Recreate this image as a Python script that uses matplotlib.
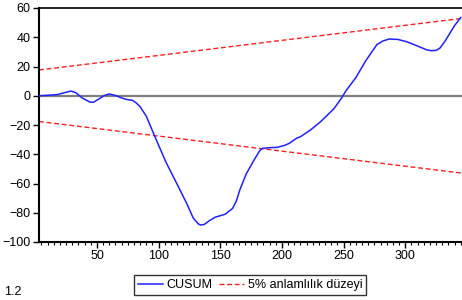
#!/usr/bin/env python

import numpy as np
import matplotlib
matplotlib.use('Agg')
import matplotlib.pyplot as plt
from matplotlib.ticker import MultipleLocator

plt.rcParams['font.family'] = ['Liberation Sans', 'DejaVu Sans']

# CUSUM statistic
cusum_x = [3, 10, 18, 24, 29, 33, 38, 44, 47, 52, 56, 60, 65, 70, 74, 79,
           82, 85, 90, 97, 106, 115, 123, 128, 132, 134, 137, 141, 146, 154,
           160, 163, 166, 171, 177, 182, 184, 190, 196, 202, 206, 212, 215,
           223, 231, 242, 248, 252, 260, 268, 277, 282, 287, 294, 301, 307,
           312, 317, 321, 325, 328, 332, 336, 340, 345]
cusum_y = [0, 0.3, 0.8, 2.2, 3.2, 2.0, -1.5, -4.2, -4.5, -2.0, 0.2, 1.2,
           0.2, -1.5, -2.5, -3.2, -5.0, -7.5, -14, -28, -45.5, -60.5, -74,
           -83.5, -87.5, -88.4, -88, -85.5, -83, -81, -77, -72, -64, -53.5,
           -44.5, -37.5, -36, -35.5, -35.3, -34, -32.5, -29, -28, -23.5, -18,
           -9, -2, 3.5, 12.5, 24, 35, 37.5, 38.8, 38.5, 37, 35, 33.3, 31.5,
           30.8, 31, 32.5, 37, 42.5, 48, 53.5]

# 5% significance bounds (straight lines, end points)
bound_x = [3, 345]
upper_bound = [17.6, 52.8]
lower_bound = [-17.6, -52.8]

yticks = [-100, -80, -60, -40, -20, 0, 20, 40, 60]
xticks = [50, 100, 150, 200, 250, 300]

fig = plt.figure(figsize=(4.62, 3.0), dpi=100)
ax = fig.add_axes([39/462, 1 - 242/300, 1 - 39/462, 234/300])

ax.axhline(0, color='#7f7f7f', lw=1.6, zorder=1)
l1, = ax.plot(cusum_x, cusum_y, color='#2020ff', lw=1.1, label='CUSUM',
              zorder=3)
l2, = ax.plot(bound_x, upper_bound, color='#ff1f1f', lw=1.0,
              linestyle=(0, (3.5, 2)), label='5% anlamlılık düzeyi',
              zorder=2)
ax.plot(bound_x, lower_bound, color='#ff1f1f', lw=1.0,
        linestyle=(0, (3.5, 2)), zorder=2)

ax.set_xlim(3, 346)
ax.set_ylim(-100, 60)
ax.set_yticks(yticks)
ax.set_xticks(xticks)
ax.xaxis.set_minor_locator(MultipleLocator(5))
ax.tick_params(axis='both', which='major', direction='out', length=4,
               width=1.0, labelsize=9, pad=2)
ax.tick_params(axis='x', which='minor', direction='out', length=2.5,
               width=0.8)

for side in ['left', 'bottom']:
    ax.spines[side].set_linewidth(1.5)
ax.spines['top'].set_linewidth(1.2)
ax.spines['right'].set_visible(False)

leg = fig.legend(handles=[l1, l2], loc='center',
                 bbox_to_anchor=(250/462, 1 - 285/300), ncol=2,
                 fontsize=9, frameon=True, fancybox=False,
                 handlelength=2.0, handletextpad=0.3, columnspacing=0.5,
                 borderpad=0.3)
leg.get_frame().set_edgecolor('black')
leg.get_frame().set_linewidth(1.0)

# caption at the bottom left
fig.text(4/462, 2/300, '1.2', fontsize=9, va='bottom', ha='left')

fig.savefig('out.png', dpi=100)
